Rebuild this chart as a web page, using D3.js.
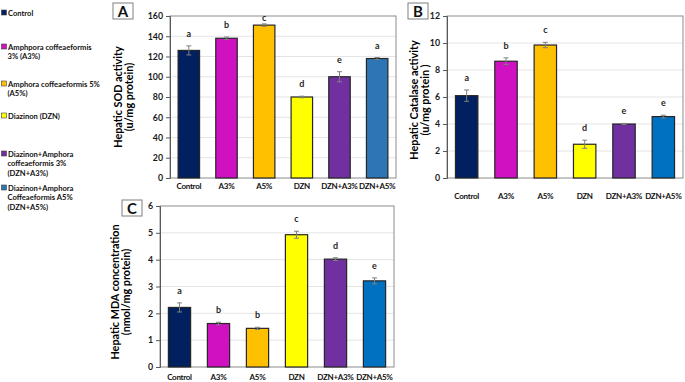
<!DOCTYPE html>
<html>
<head>
<meta charset="utf-8">
<script src="https://cdn.jsdelivr.net/npm/d3@7"></script>
<style>
  body { margin: 0; background: #fff; }
  svg { display: block; font-family: Lato, "Open Sans", sans-serif; }
</style>
</head>
<body>
<div id="chart"></div>
<script>
// groups and values
var categories = ["Control", "A3%", "A5%", "DZN", "DZN+A3%", "DZN+A5%"];

var sodValues = [126, 138, 151, 80, 100, 118];
var sodErrors = [4.5, 1.2, 1.2, 0.8, 5, 1];
var sodLetters = ["a", "b", "c", "d", "e", "a"];
var sodTicks = [0, 20, 40, 60, 80, 100, 120, 140, 160];

var catValues = [6.1, 8.65, 9.85, 2.5, 4.0, 4.55];
var catErrors = [0.42, 0.25, 0.2, 0.3, 0.04, 0.1];
var catLetters = ["a", "b", "c", "d", "e", "e"];
var catTicks = [0, 2, 4, 6, 8, 10, 12];

var mdaValues = [2.22, 1.62, 1.44, 4.93, 4.02, 3.21];
var mdaErrors = [0.17, 0.05, 0.04, 0.13, 0.05, 0.11];
var mdaLetters = ["a", "b", "b", "c", "d", "e"];
var mdaTicks = [0, 1, 2, 3, 4, 5, 6];

var legendLines = [
  ["Control"],
  ["Amphpora coffeaeformis", "3% (A3%)"],
  ["Amphora coffeaeformis 5%", "(A5%)"],
  ["Diazinon (DZN)"],
  ["Diazinon+Amphora", "coffeaeformis 3%", "(DZN+A3%)"],
  ["Diazinon+Amphora", "Coffeaeformis A5%", "(DZN+A5%)"]
];

var colorsA = ["#002060", "#D011C2", "#FFC000", "#FFFF00", "#7030A0", "#2E75B6"];
var colorsBC = ["#002060", "#D011C2", "#FFC000", "#FFFF00", "#7030A0", "#0070C0"];

var svg = d3.select("#chart")
    .append("svg")
    .attr("width", 685)
    .attr("height", 382);

// legend on the left
var legendY = [14, 48, 85, 117, 155, 189];
legendLines.forEach(function(lines, i){
    svg.append("rect")
        .attr("x", 1.5).attr("y", legendY[i] - 4)
        .attr("width", 5).attr("height", 5)
        .style("fill", colorsA[i])
        .style("stroke", "#404040")
        .style("stroke-width", "0.6px");
    var t = svg.append("text")
        .attr("x", 8).attr("y", legendY[i] + 1.5)
        .style("font-size", "7.6px")
        .style("font-weight", "bold")
        .style("fill", "#111");
    lines.forEach(function(l, j){
        t.append("tspan")
            .attr("x", j == 0 ? 8 : 7.5)
            .attr("dy", j == 0 ? 0 : 9.8)
            .text(l);
    });
});

function drawPanel(p){
    var x = d3.scaleBand()
        .domain(categories)
        .range([p.left, p.right])
        .paddingInner(0.43)
        .paddingOuter(0.215);

    var y = d3.scaleLinear()
        .domain([0, p.max])
        .range([p.bottom, p.top]);

    var g = svg.append("g");

    // gridlines
    g.selectAll(".grid")
        .data(p.ticks.slice(1, -1))
        .enter().append("line")
        .attr("x1", p.left).attr("x2", p.right)
        .attr("y1", function(d){ return y(d); })
        .attr("y2", function(d){ return y(d); })
        .style("stroke", "#e4e4e4")
        .style("stroke-width", "1px");

    // plot box
    g.append("rect")
        .attr("x", p.left).attr("y", p.top)
        .attr("width", p.right - p.left)
        .attr("height", p.bottom - p.top)
        .style("fill", "none")
        .style("stroke", "#8c8c8c")
        .style("stroke-width", "1px");

    // bars
    g.selectAll(".bar")
        .data(p.values)
        .enter().append("rect")
        .attr("x", function(d, i){ return x(categories[i]); })
        .attr("y", function(d){ return y(d); })
        .attr("width", x.bandwidth())
        .attr("height", function(d){ return p.bottom - y(d); })
        .style("fill", function(d, i){ return p.colors[i]; })
        .style("stroke", "#262626")
        .style("stroke-width", "1.2px");

    // error bars
    p.values.forEach(function(v, i){
        var cx = x(categories[i]) + x.bandwidth() / 2;
        var e = p.errors[i];
        var eg = g.append("g")
            .style("stroke", "#7f7f7f")
            .style("stroke-width", "1px");
        eg.append("line")
            .attr("x1", cx).attr("x2", cx)
            .attr("y1", y(v - e)).attr("y2", y(v + e));
        eg.append("line")
            .attr("x1", cx - 2.5).attr("x2", cx + 2.5)
            .attr("y1", y(v - e)).attr("y2", y(v - e));
        eg.append("line")
            .attr("x1", cx - 2.5).attr("x2", cx + 2.5)
            .attr("y1", y(v + e)).attr("y2", y(v + e));
        g.append("text")
            .attr("x", cx)
            .attr("y", Math.max(y(v + e) - 9, p.top + 5))
            .attr("text-anchor", "middle")
            .style("font-size", "9px")
            .style("font-weight", "bold")
            .style("fill", "#262626")
            .text(p.letters[i]);
    });

    // y axis
    var ya = g.append("g")
        .attr("transform", "translate(" + p.left + ",0)")
        .call(d3.axisLeft(y).tickValues(p.ticks).tickFormat(d3.format("d")).tickSize(4).tickPadding(3));
    ya.select(".domain").style("stroke", "#595959");
    ya.selectAll(".tick line").style("stroke", "#595959");
    ya.selectAll("text")
        .style("font-family", "Lato, sans-serif")
        .style("font-size", "8.8px")
        .style("font-weight", "bold")
        .style("fill", "#1a1a1a");

    // category labels
    g.selectAll(".cat")
        .data(categories)
        .enter().append("text")
        .attr("x", function(d){ return x(d) + x.bandwidth() / 2; })
        .attr("y", p.labelY)
        .attr("text-anchor", "middle")
        .style("font-size", "8px")
        .style("letter-spacing", "-0.3px")
        .style("font-weight", "bold")
        .style("fill", "#111")
        .text(function(d){ return d; });

    // y title
    var tt = g.append("text")
        .attr("transform", "translate(" + p.titleX + "," + p.titleY + ") rotate(-90)")
        .attr("text-anchor", "middle")
        .style("font-size", "10.8px")
        .style("font-weight", "bold")
        .style("fill", "#000");
    p.title.forEach(function(l, j){
        tt.append("tspan").attr("x", 0).attr("dy", j == 0 ? 0 : 11).text(l);
    });

    // panel letter box
    g.append("rect")
        .attr("x", p.boxX).attr("y", p.boxY)
        .attr("width", 20).attr("height", 16)
        .style("fill", "#fff")
        .style("stroke", "#7f7f7f")
        .style("stroke-width", "1px");
    g.append("text")
        .attr("x", p.boxX + 10).attr("y", p.boxY + 13.5)
        .attr("text-anchor", "middle")
        .style("font-size", "15px")
        .style("font-weight", "bold")
        .style("fill", "#111")
        .text(p.name);
}

drawPanel({
    name: "A", values: sodValues, errors: sodErrors, letters: sodLetters,
    ticks: sodTicks, max: 160, colors: colorsA,
    left: 170, right: 396, top: 16, bottom: 178, labelY: 189,
    title: ["Hepatic SOD activity", "(u/mg protein)"], titleX: 122, titleY: 97,
    boxX: 113, boxY: 3
});

drawPanel({
    name: "B", values: catValues, errors: catErrors, letters: catLetters,
    ticks: catTicks, max: 12, colors: colorsBC,
    left: 447, right: 683, top: 16, bottom: 178, labelY: 199,
    title: ["Hepatic Catalase activity", "(u/mg protein )"], titleX: 418, titleY: 100,
    boxX: 408, boxY: 3
});

drawPanel({
    name: "C", values: mdaValues, errors: mdaErrors, letters: mdaLetters,
    ticks: mdaTicks, max: 6, colors: colorsBC,
    left: 160, right: 394, top: 206, bottom: 367, labelY: 380,
    title: ["Hepatic MDA concentration", "(nmol/mg protein)"], titleX: 119, titleY: 292,
    boxX: 122, boxY: 200
});
</script>
</body>
</html>
